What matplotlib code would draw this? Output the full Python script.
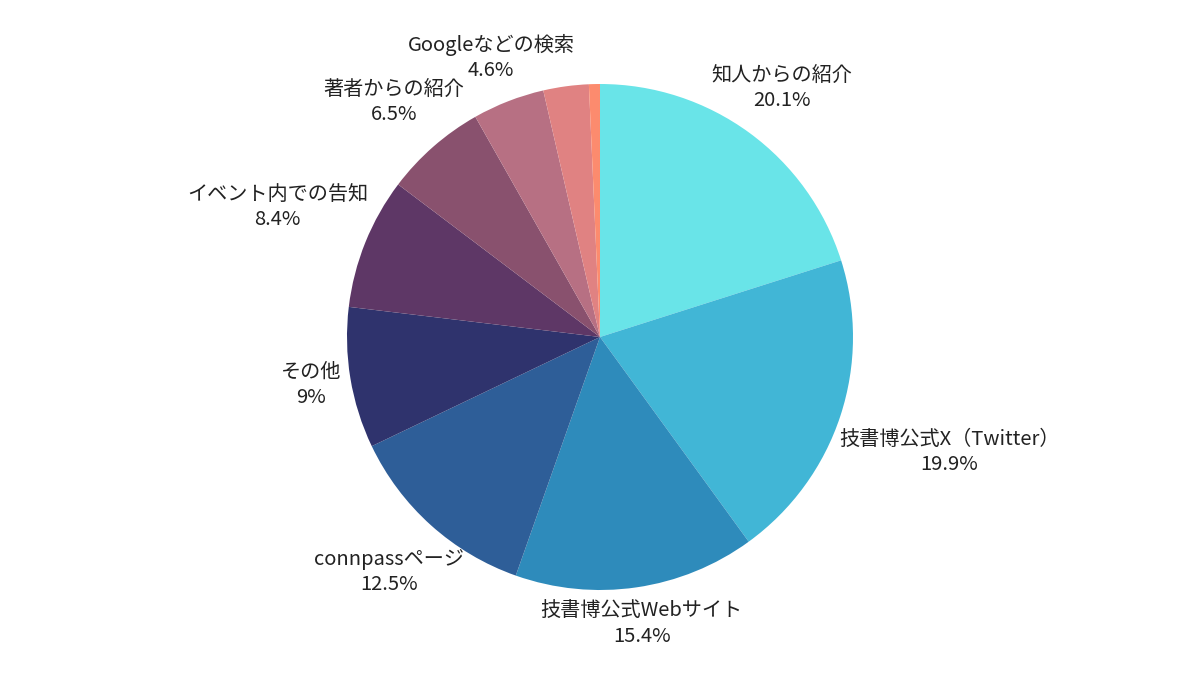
import numpy as np
import matplotlib
matplotlib.use('Agg')
from matplotlib import pyplot as plt

# data
labels = ['知人からの紹介', '技書博公式X（Twitter）', '技書博公式Webサイト', 'connpassページ',
          'その他', 'イベント内での告知', '著者からの紹介', 'Googleなどの検索', '', '']
values = [20.1, 19.9, 15.4, 12.5, 9.0, 8.4, 6.5, 4.6, 2.9, 0.7]
colors = ['#69E4E8', '#41B6D6', '#2E8BBB', '#2E5E98', '#2F336D',
          '#5E3766', '#89516E', '#B77083', '#E08282', '#FC8B6E']


def main():
    """draw pie with outside labels"""
    plt.rcParams['font.family'] = ['Noto Sans CJK JP', 'DejaVu Sans']

    fig = plt.figure(figsize=(12, 6.75), dpi=100)
    ax = fig.add_axes([0, 0, 1, 1])
    ax.set_xlim(0, 1200)
    ax.set_ylim(0, 675)
    ax.axis('off')

    cx, cy, r = 600, 338, 253
    wedges, _ = ax.pie(values, colors=colors, startangle=90, counterclock=False,
                       center=(cx, cy), radius=r, frame=True,
                       wedgeprops={'linewidth': 0})
    ax.set_xlim(0, 1200)
    ax.set_ylim(0, 675)
    ax.axis('off')

    renderer = fig.canvas.get_renderer()
    for w, lab, v in zip(wedges, labels, values):
        if not lab:
            continue
        ang = np.deg2rad((w.theta1 + w.theta2) / 2)
        vx, vy = np.cos(ang), np.sin(ang)
        t = ax.text(0, 0, f'{lab}\n{v:g}%', ha='center', va='center',
                    fontsize=14.5, color='#222222', linespacing=1.25)
        bb = t.get_window_extent(renderer)
        d = np.hypot(vx * bb.width / 2, vy * bb.height / 2) + 10
        t.set_position((cx + vx * (r + d), cy + vy * (r + d)))

    plt.savefig('out.png', dpi=100)


if __name__ == '__main__':
    main()
